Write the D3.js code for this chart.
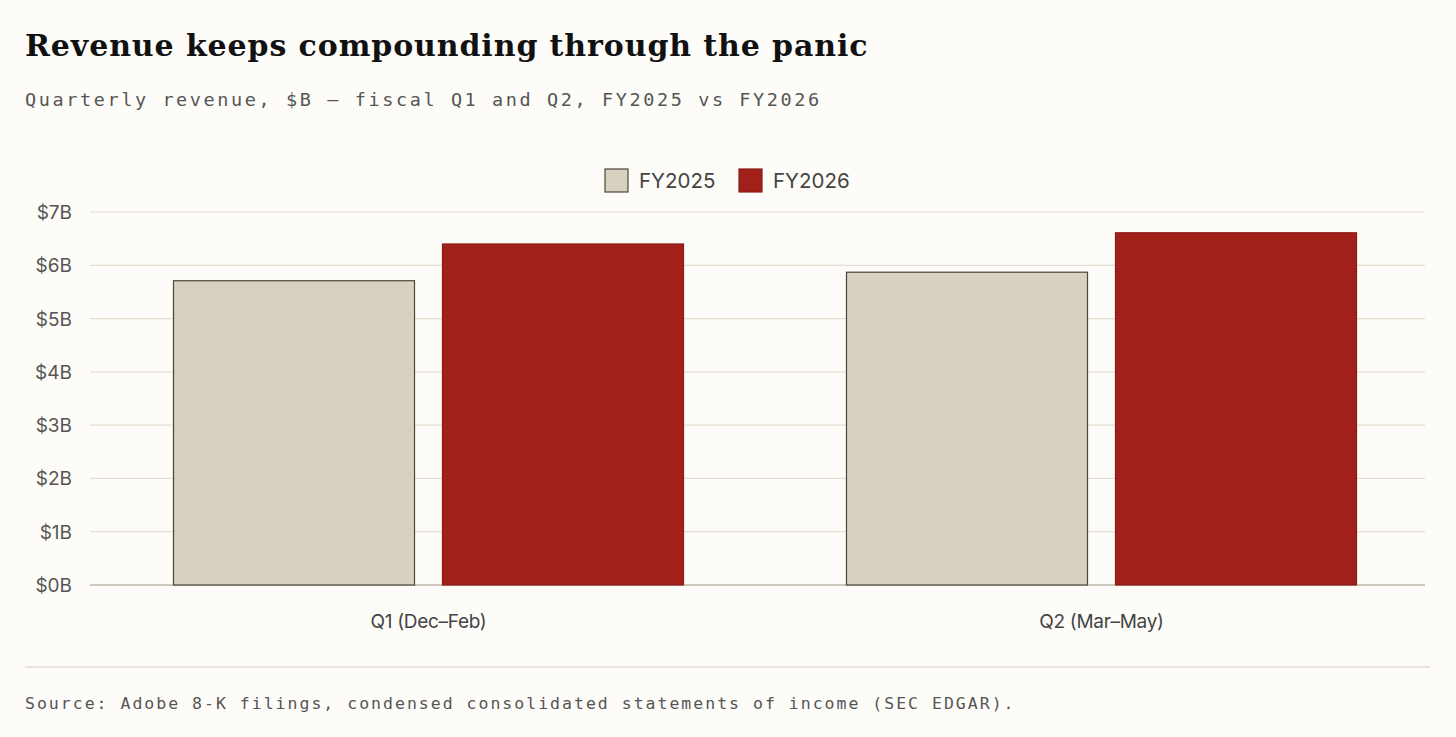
<!DOCTYPE html>
<html>
<head>
<meta charset="utf-8">
<script src="https://cdn.jsdelivr.net/npm/d3@7"></script>
<style>
  body { margin: 0; background: #fdfcf8; }
  svg { display: block; }
</style>
</head>
<body>
<svg id="chart" width="1456" height="737"></svg>
<script>
// data
var quarters = ['Q1 (Dec–Feb)', 'Q2 (Mar–May)'];
var years = ['FY2025', 'FY2026'];
var fy2025 = [5.71, 5.87];
var fy2026 = [6.40, 6.61];
var yTicks = [0, 1, 2, 3, 4, 5, 6, 7];

var colors = { FY2025: '#d8d1bf', FY2026: '#a1211a' };
var strokes = { FY2025: '#4a463c', FY2026: '#8a1c16' };

var svg = d3.select('#chart');
svg.append('rect').attr('width', 1456).attr('height', 737).attr('fill', '#fdfcf8');

// title + subtitle
svg.append('text').attr('x', 25).attr('y', 56)
    .attr('font-family', 'DejaVu Serif, serif').attr('font-weight', 'bold')
    .attr('font-size', 30).attr('fill', '#111').attr('letter-spacing', 0.9)
    .text('Revenue keeps compounding through the panic');
svg.append('text').attr('x', 25).attr('y', 106)
    .attr('font-family', 'DejaVu Sans Mono, monospace').attr('font-size', 18.5)
    .attr('fill', '#555').attr('letter-spacing', 2.6)
    .text('Quarterly revenue, $B — fiscal Q1 and Q2, FY2025 vs FY2026');

var plotTop = 212, plotBottom = 585, plotLeft = 90, plotRight = 1425;
var y = d3.scaleLinear().domain([0, 7]).range([plotBottom, plotTop]);
var x0 = d3.scaleBand().domain(quarters).range([92, 1438]).paddingInner(0).paddingOuter(0);
var x1 = d3.scaleBand().domain(years).range([0, 510]).paddingInner(0.104);
var groupOffset = (x0.bandwidth() - 510) / 2;

// gridlines + tick labels
var grid = svg.append('g');
yTicks.forEach(function(t) {
    grid.append('line').attr('x1', plotLeft).attr('x2', plotRight)
        .attr('y1', y(t)).attr('y2', y(t))
        .attr('stroke', t === 0 ? '#bdb8ab' : '#e3dfd0').attr('stroke-width', t === 0 ? 1.5 : 1.2);
    grid.append('text').attr('x', 72).attr('y', y(t) + 7).attr('text-anchor', 'end')
        .attr('font-family', 'Inter, sans-serif').attr('font-size', 19).attr('fill', '#555')
        .text('$' + t + 'B');
});

// bars
var rows = quarters.map(function(q, i) {
    return { q: q, vals: [{ k: 'FY2025', v: fy2025[i] }, { k: 'FY2026', v: fy2026[i] }] };
});
var groups = svg.selectAll('g.grp').data(rows).enter().append('g')
    .attr('transform', function(d) { return 'translate(' + (x0(d.q) + groupOffset) + ',0)'; });
groups.selectAll('rect').data(function(d) { return d.vals; }).enter().append('rect')
    .attr('x', function(d) { return x1(d.k); })
    .attr('width', x1.bandwidth())
    .attr('y', function(d) { return y(d.v); })
    .attr('height', function(d) { return y(0) - y(d.v); })
    .attr('fill', function(d) { return colors[d.k]; })
    .attr('stroke', function(d) { return strokes[d.k]; })
    .attr('stroke-width', 1.2);

// category labels
quarters.forEach(function(q) {
    svg.append('text').attr('x', x0(q) + x0.bandwidth() / 2).attr('y', 628)
        .attr('text-anchor', 'middle').attr('font-family', 'Inter, sans-serif')
        .attr('font-size', 19).attr('fill', '#444').attr('letter-spacing', -0.3).text(q);
});

// legend
var legend = svg.append('g');
var lx = [605, 739];
years.forEach(function(k, i) {
    legend.append('rect').attr('x', lx[i]).attr('y', 169).attr('width', 23).attr('height', 23)
        .attr('fill', colors[k]).attr('stroke', strokes[k]).attr('stroke-width', 1.2);
    legend.append('text').attr('x', lx[i] + 34).attr('y', 188)
        .attr('font-family', 'Inter, sans-serif').attr('font-size', 20.5).attr('fill', '#444')
        .text(k);
});

// footer
svg.append('line').attr('x1', 25).attr('x2', 1430).attr('y1', 667).attr('y2', 667)
    .attr('stroke', '#e0dccd').attr('stroke-width', 1.5);
svg.append('text').attr('x', 25).attr('y', 709)
    .attr('font-family', 'DejaVu Sans Mono, monospace').attr('font-size', 16.5)
    .attr('fill', '#555').attr('letter-spacing', 2)
    .text('Source: Adobe 8-K filings, condensed consolidated statements of income (SEC EDGAR).');
</script>
</body>
</html>
